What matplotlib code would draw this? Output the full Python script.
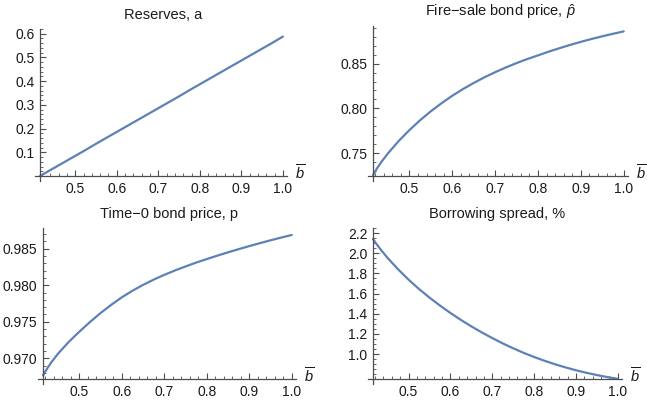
import matplotlib
matplotlib.use("Agg")
import matplotlib.pyplot as plt
from matplotlib.ticker import MultipleLocator, FormatStrFormatter
from matplotlib.transforms import offset_copy

plt.rcParams['font.family'] = ['Liberation Sans', 'DejaVu Sans']
plt.rcParams['mathtext.fontset'] = 'custom'
plt.rcParams['mathtext.it'] = 'Liberation Sans:italic'
plt.rcParams['mathtext.rm'] = 'Liberation Sans'

# data
b_bar = [0.415, 0.425, 0.435, 0.45, 0.475, 0.50, 0.525, 0.55, 0.575, 0.60, 0.625, 0.65, 0.675,
         0.70, 0.725, 0.75, 0.775, 0.80, 0.825, 0.85, 0.875, 0.90, 0.925, 0.95, 0.975, 1.00]
reserves = [0.0, 0.010, 0.020, 0.035, 0.060, 0.085, 0.110, 0.136, 0.161, 0.186, 0.211, 0.236, 0.261,
            0.286, 0.311, 0.336, 0.362, 0.387, 0.412, 0.437, 0.462, 0.487, 0.512, 0.537, 0.562, 0.588]
firesale_price = [0.7255, 0.7335, 0.7405, 0.7498, 0.7636, 0.7758, 0.7868, 0.7968, 0.8058, 0.8141,
                  0.8216, 0.8284, 0.8347, 0.8404, 0.8457, 0.8506, 0.8551, 0.8592, 0.8634, 0.8672,
                  0.8709, 0.8743, 0.8775, 0.8805, 0.8833, 0.8860]
time0_price = [0.96770, 0.96865, 0.96950, 0.97063, 0.97223, 0.97363, 0.97495, 0.97618, 0.97730,
               0.97833, 0.97923, 0.98003, 0.98075, 0.98140, 0.98200, 0.98255, 0.98308, 0.98356,
               0.98403, 0.98448, 0.98491, 0.98533, 0.98573, 0.98612, 0.98649, 0.98685]
spread = [2.140, 2.082, 2.028, 1.953, 1.8405, 1.738, 1.6455, 1.5605, 1.4818, 1.408, 1.3393, 1.2755,
          1.2155, 1.1593, 1.1068, 1.058, 1.013, 0.9718, 0.9343, 0.900, 0.8688, 0.8405, 0.8155,
          0.793, 0.773, 0.7555]

titles = ["Reserves, a", "Fire\u2212sale bond price, $\\hat{p}$", "Time\u22120 bond price, p", "Borrowing spread, %"]
x_ticks = [0.5, 0.6, 0.7, 0.8, 0.9, 1.0]
y_ticks = [[0.1, 0.2, 0.3, 0.4, 0.5, 0.6],
           [0.75, 0.80, 0.85],
           [0.970, 0.975, 0.980, 0.985],
           [1.0, 1.2, 1.4, 1.6, 1.8, 2.0, 2.2]]
y_fmt = ['%.1f', '%.2f', '%.3f', '%.1f']
y_minor = [0.02, 0.01, 0.001, 0.05]
y_lims = [(0.0, 0.62), (0.7245, 0.892), (0.9672, 0.9878), (0.754, 2.25)]
series = [reserves, firesale_price, time0_price, spread]

W, H = 647, 401
# axes boxes in pixels: left, top, right, bottom
boxes = [(40, 29, 287, 176), (373, 26, 628, 176), (43, 228, 296, 379), (373, 228, 622, 379)]

fig = plt.figure(figsize=(W / 100, H / 100), dpi=100)
line_color = '#5E81B5'
axis_color = '#4d4d4d'
text_color = '#1a1a1a'
x0, x1 = 0.415, 1.01

for i in range(4):
    l, t, r, bt = boxes[i]
    ax = fig.add_axes([l / W, 1 - bt / H, (r - l) / W, (bt - t) / H])
    ax.plot(b_bar, series[i], color=line_color, lw=1.6, solid_capstyle='round',
            solid_joinstyle='round', clip_on=False)
    ax.set_xlim(x0, x1)
    y0, y1 = y_lims[i]
    ax.set_ylim(y0, y1)
    for s in ['top', 'right']:
        ax.spines[s].set_visible(False)
    for s in ['left', 'bottom']:
        ax.spines[s].set_color(axis_color)
        ax.spines[s].set_linewidth(0.9)
    # small overhang of the axes past their crossing point
    ax.spines['bottom'].set_bounds(x0 - 5 * (x1 - x0) / (r - l), x1)
    ax.spines['left'].set_bounds(y0 - 5 * (y1 - y0) / (bt - t), y1)
    ax.set_xticks(x_ticks)
    ax.xaxis.set_major_formatter(FormatStrFormatter('%.1f'))
    ax.xaxis.set_minor_locator(MultipleLocator(0.02))
    ax.set_yticks(y_ticks[i])
    ax.yaxis.set_major_formatter(FormatStrFormatter(y_fmt[i]))
    ax.yaxis.set_minor_locator(MultipleLocator(y_minor[i]))
    ax.tick_params(which='major', direction='in', length=4, width=0.8, color=axis_color,
                   labelsize=10, labelcolor=text_color)
    ax.tick_params(axis='x', which='major', pad=4)
    ax.tick_params(axis='y', which='major', pad=4)
    ax.tick_params(which='minor', direction='in', length=2, width=0.6, color=axis_color)
    ax.set_title(titles[i], fontsize=10.5, color=text_color, pad=7)
    tr = offset_copy(ax.transAxes, fig=fig, x=8, y=3, units='dots')
    ax.text(1.0, 0.0, r'$\overline{b}$', transform=tr, fontsize=10.5,
            color=text_color, ha='left', va='center')

fig.savefig('out.png', dpi=100)
